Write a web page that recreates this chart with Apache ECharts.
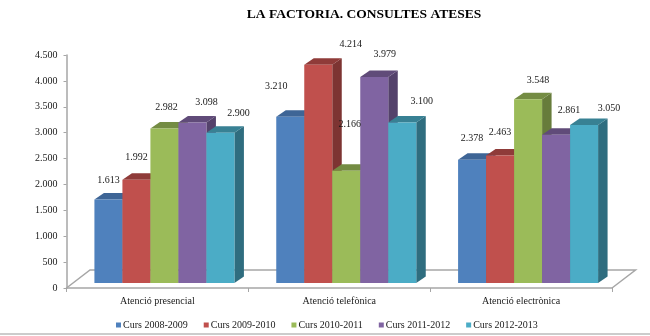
<!DOCTYPE html>
<html>
<head>
<meta charset="utf-8">
<title>La Factoria. Consultes ateses</title>
<style>
  html, body { margin: 0; padding: 0; background: #fff; }
  #chart { width: 650px; height: 336px; }
</style>
</head>
<body>
<div id="chart"></div>
<script src="https://cdn.jsdelivr.net/npm/echarts@6/dist/echarts.min.js"></script>
<script>
const categories = ['Atenció presencial', 'Atenció telefònica', 'Atenció electrònica'];
const courses = ['Curs 2008-2009', 'Curs 2009-2010', 'Curs 2010-2011', 'Curs 2011-2012', 'Curs 2012-2013'];

const curs0809 = [1613, 3210, 2378];
const curs0910 = [1992, 4214, 2463];
const curs1011 = [2982, 2166, 3548];
const curs1112 = [3098, 3979, 2861];
const curs1213 = [2900, 3100, 3050];
const seriesValues = [curs0809, curs0910, curs1011, curs1112, curs1213];

const frontColors = ['#4f81bd', '#c0504d', '#9bbb59', '#8064a2', '#4bacc6'];
const topColors = ['#3e6596', '#8f3b39', '#748c43', '#604b79', '#388194'];
const sideColors = ['#375a85', '#7d3432', '#677c3b', '#54426b', '#2f6d7f'];

// label nudges from the top centre of each bar, per course then per category
const labelDx = [[0, -14, 0], [0, 32.5, 0], [2, 3.5, 10], [14, 10.5, 13], [18, 19.5, 25]];
const labelDy = [[-19.5, -30, -21], [-22, -20, -23.5], [-21.5, -46, -19], [-20.5, -22.5, -24], [-19, -21.5, -17]];

const textColor = '#1a1a1a';
const lineColor = '#a6a6a6';
const serif = '"Liberation Serif", serif';

const barWidth = 28;
const frontDx = 7;      // bars stand a little inside the floor
const frontDy = -5;
const depthX = 9.5;
const depthY = -6.5;
const floorDx = 23.5;
const floorDy = -18;

function thousands(v) {
  return String(v).replace(/\B(?=(\d{3})+$)/g, '.');
}

function renderBar(courseIndex) {
  return function (params, api) {
    const cat = api.value(0);
    const val = api.value(1);
    const top = api.coord([cat, val]);
    const base = api.coord([cat, 0]);
    const x0 = top[0] + frontDx + (courseIndex - 2.5) * barWidth;
    const x1 = x0 + barWidth;
    const yTop = top[1] + frontDy;
    const yBase = base[1] + frontDy;
    return {
      type: 'group',
      children: [
        {
          type: 'polygon',
          shape: { points: [[x1, yTop], [x1 + depthX, yTop + depthY], [x1 + depthX, yBase + depthY], [x1, yBase]] },
          style: { fill: sideColors[courseIndex] }
        },
        {
          type: 'polygon',
          shape: { points: [[x0, yTop], [x0 + depthX, yTop + depthY], [x1 + depthX, yTop + depthY], [x1, yTop]] },
          style: { fill: topColors[courseIndex] }
        },
        {
          type: 'rect',
          shape: { x: x0, y: yTop, width: barWidth, height: yBase - yTop },
          style: { fill: frontColors[courseIndex] }
        },
        {
          type: 'text',
          z2: 100,
          x: x0 + barWidth / 2 + labelDx[courseIndex][cat],
          y: yTop + labelDy[courseIndex][cat],
          style: {
            text: thousands(val),
            fill: textColor,
            font: '10px ' + serif,
            align: 'center',
            verticalAlign: 'middle'
          }
        }
      ]
    };
  };
}

function renderFloor(params) {
  const r = params.coordSys;
  const bottom = r.y + r.height;
  return {
    type: 'polyline',
    shape: {
      points: [
        [r.x, bottom],
        [r.x + floorDx, bottom + floorDy],
        [r.x + r.width + floorDx, bottom + floorDy],
        [r.x + r.width, bottom]
      ]
    },
    style: { fill: 'none', stroke: lineColor, lineWidth: 1.5 }
  };
}

const chart = echarts.init(document.getElementById('chart'));

const barSeries = courses.map((name, i) => ({
  name: name,
  type: 'custom',
  coordinateSystem: 'cartesian2d',
  renderItem: renderBar(i),
  itemStyle: { color: frontColors[i] },
  encode: { x: 0, y: 1 },
  z: 3,
  data: categories.map((c, j) => [j, seriesValues[i][j]])
}));

chart.setOption({
  animation: false,
  backgroundColor: '#fff',
  title: {
    text: 'LA FACTORIA. CONSULTES ATESES',
    left: 359,
    top: 3,
    textAlign: 'center',
    textStyle: { fontFamily: serif, fontSize: 13.5, fontWeight: 'bold', color: '#000' }
  },
  legend: {
    data: courses,
    bottom: 1,
    left: 111,
    icon: 'rect',
    itemWidth: 5,
    itemHeight: 5,
    itemGap: 16,
    textStyle: { fontFamily: serif, fontSize: 10, color: textColor, padding: [0, 0, 0, -3] }
  },
  grid: { left: 66.5, right: 38, top: 55, bottom: 48 },
  xAxis: {
    type: 'category',
    data: categories,
    axisLine: { lineStyle: { color: lineColor, width: 1.5 } },
    axisTick: { show: true, length: 4, alignWithLabel: false, lineStyle: { color: lineColor } },
    axisLabel: { fontFamily: serif, fontSize: 10, color: textColor, margin: 8 }
  },
  yAxis: {
    type: 'value',
    min: 0,
    max: 4500,
    interval: 500,
    splitLine: { show: false },
    axisLine: { show: true, lineStyle: { color: lineColor, width: 1.5 } },
    axisTick: { show: true, length: 3, lineStyle: { color: lineColor } },
    axisLabel: { fontFamily: serif, fontSize: 10, color: textColor, margin: 9, formatter: thousands }
  },
  series: [
    {
      type: 'custom',
      coordinateSystem: 'cartesian2d',
      renderItem: renderFloor,
      silent: true,
      z: 1,
      data: [[0, 0]]
    }
  ].concat(barSeries),
  graphic: [
    {
      type: 'line',
      shape: { x1: 0, y1: 334, x2: 650, y2: 334 },
      style: { stroke: '#999', lineWidth: 1 }
    }
  ]
});
</script>
</body>
</html>
